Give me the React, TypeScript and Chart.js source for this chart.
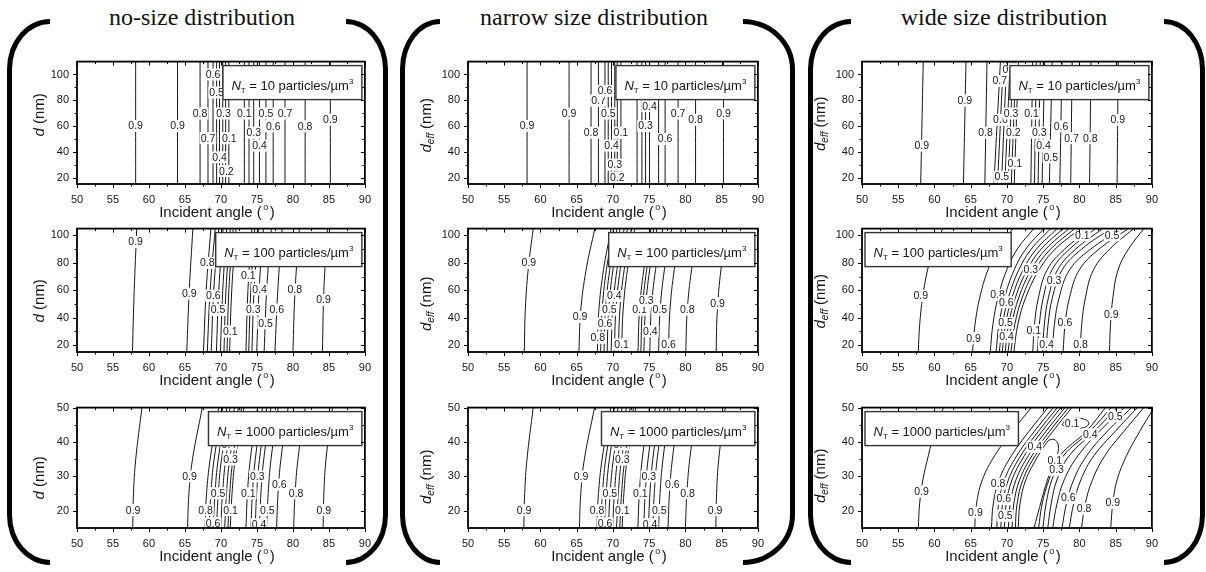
import React, { useEffect, useRef } from "react";
import { Chart, registerables } from "chart.js";

Chart.register(...registerables);

const SANS = "'Liberation Sans', Arial, Helvetica, sans-serif";
const SERIF = "'Liberation Serif', 'Times New Roman', serif";
const INK = "#161616";

// ---------------- axes ----------------
const xTicks = [50, 55, 60, 65, 70, 75, 80, 85, 90];
const xMinor = [52.5, 57.5, 62.5, 67.5, 72.5, 77.5, 82.5, 87.5];
const yTicksTall = [20, 40, 60, 80, 100];
const yMinorTall = [30, 50, 70, 90];
const yTicksShort = [20, 30, 40, 50];
const yMinorShort = [25, 35, 45];
const xRange = [50, 90];
const yRangeRow1 = [15, 110];
const yRangeRow2 = [15, 105];
const yRangeRow3 = [15, 50];
const columnTitles = ["no-size distribution", "narrow size distribution", "wide size distribution"];
const densities = [10, 100, 1000];

// ---------------- row 1 : N = 10 ----------------
// each contour: incident angle at the diameters listed in *D
const noSize10D = [15, 110];
const noSize10X = [
  [58.15, 58.15], [63.97, 63.97], [67.1, 67.1], [68.2, 68.2], [68.9, 68.9], [69.4, 69.4], [69.8, 69.8],
  [70.25, 70.25], [70.65, 70.65], [71.1, 71.1], [73.25, 73.25], [73.9, 73.9], [74.55, 74.55], [75.35, 75.35],
  [76.25, 76.25], [77.26, 77.26], [78.9, 78.9], [81.7, 81.7], [85.2, 85.2],
];
// [level, angle, diameter]
const noSize10Labels = [
  [0.9, 58.15, 60], [0.9, 63.97, 60], [0.8, 67.1, 69.7], [0.7, 68.2, 50.6], [0.6, 68.9, 100], [0.5, 69.4, 86],
  [0.4, 69.8, 35.7], [0.3, 70.35, 69.7], [0.2, 70.75, 25], [0.1, 71.15, 50.6], [0.1, 73.25, 69.7], [0.3, 74.55, 54.8],
  [0.4, 75.35, 44.8], [0.5, 76.25, 69.7], [0.6, 77.26, 59.8], [0.7, 78.9, 69.7], [0.8, 81.7, 59.8], [0.9, 85.2, 64.8],
];

const narrow10D = [15, 110];
const narrow10X = [
  [58.15, 58.15], [63.95, 63.95], [66.98, 66.98], [68.0, 68.0], [68.9, 68.9], [69.35, 69.35], [69.8, 69.8],
  [70.25, 70.25], [70.6, 70.6], [71.1, 71.1], [73.33, 73.33], [74.0, 74.0], [74.5, 74.5], [75.05, 75.05],
  [76.3, 76.3], [77.2, 77.2], [78.99, 78.99], [81.4, 81.4], [85.25, 85.25],
];
const narrow10Labels = [
  [0.9, 58.15, 60], [0.9, 63.95, 69.7], [0.8, 66.98, 54.8], [0.7, 68.0, 79.7], [0.6, 68.9, 87.2], [0.5, 69.35, 69.7],
  [0.4, 69.8, 44.8], [0.3, 70.25, 29.9], [0.2, 70.6, 20], [0.1, 71.1, 54.8], [0.3, 74.5, 60], [0.4, 75.05, 75.4],
  [0.6, 77.2, 49.9], [0.7, 78.99, 69.7], [0.8, 81.4, 64.8], [0.9, 85.25, 69.7],
];

const wide10D = [15, 110];
const wide10X = [
  [58.1, 58.45], [64.0, 64.35], [66.95, 67.25], [68.2, 69.1], [68.7, 69.5], [69.25, 69.95], [69.7, 70.45],
  [70.15, 70.85], [70.6, 71.25], [71.0, 71.6], [73.3, 73.55], [73.8, 74.05], [74.3, 74.6], [74.85, 75.2],
  [75.85, 76.25], [77.3, 77.6], [78.8, 79.0], [81.4, 81.6], [85.2, 85.35],
];
const wide10Labels = [
  [0.9, 58.25, 44.8], [0.9, 64.2, 79.7], [0.8, 67.05, 54.8], [0.7, 69.0, 95], [0.6, 69.1, 64.8], [0.5, 69.3, 20.7],
  [0.4, 70.4, 104], [0.3, 70.55, 69.7], [0.2, 70.87, 54.8], [0.1, 71.1, 31.2], [0.1, 73.4, 69.7], [0.3, 74.45, 54.8],
  [0.4, 75.05, 44.8], [0.5, 76.05, 35.7], [0.6, 77.45, 59.8], [0.7, 78.9, 50.6], [0.8, 81.5, 50.6], [0.9, 85.3, 64.8],
];

// ---------------- row 2 : N = 100 ----------------
const noSize100D = [15, 60, 105];
const noSize100X = [
  [57.7, 57.95, 58.3], [65.25, 65.6, 66.1], [67.57, 67.95, 68.6], [68.1, 68.5, 69.2], [68.65, 69.0, 69.7],
  [69.37, 69.7, 70.3], [69.92, 70.25, 70.8], [70.42, 70.7, 71.3], [70.84, 71.1, 71.7], [71.2, 71.5, 72.1],
  [73.47, 73.75, 74.3], [73.85, 74.15, 74.7], [74.3, 74.6, 75.2], [74.97, 75.3, 75.9], [76.0, 76.35, 77.0],
  [77.5, 77.9, 78.5], [80.0, 80.3, 80.9], [84.1, 84.3, 84.8],
];
const noSize100Labels = [
  [0.9, 58.15, 95.3], [0.9, 65.6, 57.6], [0.8, 68.1, 80], [0.6, 68.95, 56], [0.5, 69.6, 45.6], [0.1, 71.3, 30],
  [0.1, 73.8, 70.6], [0.3, 74.5, 46], [0.4, 75.35, 60.7], [0.5, 76.2, 36], [0.6, 77.75, 46], [0.8, 80.25, 60.7],
  [0.9, 84.25, 53],
];

const narrow100D = [15, 45, 75, 105];
const narrow100X = [
  [57.77, 57.9, 58.3, 59.0], [65.3, 65.55, 66.3, 67.5], [67.85, 68.05, 68.7, 69.75], [68.3, 68.5, 69.1, 70.1],
  [68.76, 68.96, 69.56, 70.56], [69.2, 69.4, 70.0, 71.0], [69.75, 69.95, 70.55, 71.55], [70.2, 70.4, 71.0, 72.0],
  [70.75, 70.95, 71.55, 72.55], [71.2, 71.4, 72.0, 73.0], [73.46, 73.66, 74.26, 75.26], [73.85, 74.05, 74.65, 75.65],
  [74.27, 74.47, 75.07, 76.07], [75.08, 75.28, 75.88, 76.88], [76.3, 76.5, 77.1, 78.1], [77.66, 77.86, 78.46, 79.46],
  [80.05, 80.25, 80.85, 81.85], [84.24, 84.4, 84.9, 85.7],
];
const narrow100Labels = [
  [0.9, 58.4, 80], [0.9, 65.45, 40.5], [0.8, 67.9, 25.4], [0.6, 68.9, 35.7], [0.5, 69.5, 45.9], [0.4, 70.2, 55.8],
  [0.1, 71.2, 20.5], [0.1, 73.66, 45.9], [0.3, 74.6, 52.2], [0.4, 75.17, 30.1], [0.5, 76.45, 45.9], [0.6, 77.66, 20.5],
  [0.8, 80.25, 45.9], [0.9, 84.45, 50.6],
];

const wide100D = [15, 35, 55, 75, 90, 105];
const wide100X = [
  [57.76, 57.96, 58.37, 59.05, 59.87, 61.16],
  [65.25, 65.59, 66.26, 67.38, 68.72, 70.85],
  [67.7, 68.06, 68.78, 69.98, 71.42, 73.7],
  [68.5, 68.9, 69.69, 71.01, 72.59, 75.1],
  [68.95, 69.38, 70.23, 71.65, 73.35, 76.05],
  [69.35, 69.81, 70.72, 72.24, 74.06, 76.95],
  [69.75, 70.23, 71.19, 72.79, 74.71, 77.75],
  [70.15, 70.65, 71.66, 73.34, 75.36, 78.55],
  [70.55, 71.08, 72.13, 73.89, 76.01, 79.35],
  [70.95, 71.5, 72.61, 74.45, 76.65, 80.15],
  [73.56, 73.8, 74.36, 75.56, 77.96, 81.56],
  [74.23, 74.47, 75.03, 76.23, 78.63, 82.23],
  [74.91, 75.16, 75.74, 76.99, 79.48, 83.21],
  [75.4, 75.67, 76.29, 77.63, 80.3, 84.3],
  [76.26, 76.55, 77.22, 78.66, 81.54, 85.86],
  [77.75, 78.02, 78.65, 80.0, 82.7, 86.75],
  [80.1, 80.32, 80.84, 81.95, 84.17, 87.5],
  [84.15, 84.29, 84.63, 85.34, 86.76, 88.9],
];
const wide100Labels = [
  [0.9, 58.1, 55.8], [0.9, 65.4, 25.1], [0.8, 68.7, 56.7], [0.6, 69.9, 51.3], [0.5, 69.8, 36.2], [0.4, 69.95, 26.1],
  [0.3, 73.3, 75.3], [0.1, 73.7, 30.8], [0.3, 76.5, 67.3], [0.4, 75.45, 20.7], [0.6, 78.0, 36.2], [0.8, 80.15, 20.7],
  [0.9, 84.4, 42.6], [0.1, 80.4, 100.2], [0.5, 84.5, 100.2],
];

// ---------------- row 3 : N = 1000 ----------------
const noSize1000D = [15, 25, 35, 50];
const noSize1000X = [
  [57.74, 57.85, 58.16, 59.02], [65.36, 65.55, 66.05, 67.41], [67.78, 68.0, 68.5, 69.7], [68.35, 68.6, 69.05, 70.25],
  [68.92, 69.17, 69.62, 70.82], [69.38, 69.63, 70.08, 71.28], [69.97, 70.22, 70.67, 71.87], [70.52, 70.77, 71.22, 72.42],
  [70.97, 71.22, 71.67, 72.87], [71.29, 71.54, 71.99, 73.19], [73.48, 73.68, 74.08, 75.08], [74.17, 74.37, 74.77, 75.77],
  [74.76, 74.96, 75.36, 76.36], [75.35, 75.55, 75.95, 76.95], [76.36, 76.56, 76.96, 77.96], [77.73, 77.93, 78.33, 79.33],
  [80.1, 80.3, 80.7, 81.7], [84.2, 84.3, 84.6, 85.5],
];
const noSize1000Labels = [
  [0.9, 57.8, 20.2], [0.9, 65.63, 30], [0.8, 67.85, 20.2], [0.6, 68.9, 16.4], [0.5, 69.6, 25.1], [0.4, 71.1, 39.3],
  [0.3, 71.35, 34.9], [0.1, 71.35, 20.2], [0.1, 73.8, 25.1], [0.3, 75.05, 30], [0.4, 75.3, 16.1], [0.5, 76.45, 20.2],
  [0.6, 78.1, 27.6], [0.8, 80.45, 25.1], [0.9, 84.3, 20.2],
];

const narrow1000D = [15, 25, 35, 50];
const narrow1000X = [
  [57.7, 57.82, 58.14, 59.0], [65.37, 65.56, 66.06, 67.46], [67.77, 68.0, 68.5, 69.7], [68.3, 68.55, 69.0, 70.2],
  [68.81, 69.06, 69.51, 70.71], [69.36, 69.61, 70.06, 71.26], [69.95, 70.2, 70.65, 71.85], [70.49, 70.74, 71.19, 72.39],
  [70.94, 71.19, 71.64, 72.84], [71.26, 71.51, 71.96, 73.16], [73.44, 73.64, 74.04, 75.04], [74.25, 74.45, 74.85, 75.85],
  [74.9, 75.1, 75.5, 76.5], [75.5, 75.7, 76.1, 77.1], [76.3, 76.5, 76.9, 77.9], [77.6, 77.8, 78.2, 79.2],
  [80.0, 80.2, 80.6, 81.6], [84.2, 84.3, 84.6, 85.5],
];
const narrow1000Labels = [
  [0.9, 57.75, 20.2], [0.9, 65.6, 30], [0.8, 67.8, 20.2], [0.6, 68.9, 16.4], [0.5, 69.58, 25.1], [0.4, 71.1, 39.3],
  [0.3, 71.3, 34.9], [0.1, 71.3, 20.2], [0.1, 73.76, 25.1], [0.3, 74.95, 30], [0.4, 75.12, 16.1], [0.5, 76.39, 20.2],
  [0.6, 78.2, 27.6], [0.8, 80.3, 25.1], [0.9, 84.1, 20.2],
];

const wide1000D = [15, 22, 29, 36, 43, 50];
const wide1000X = [
  [57.77, 57.95, 58.4, 59.15, 60.0, 61.25],
  [65.55, 65.8, 66.6, 68.3, 70.7, 73.35],
  [67.86, 68.11, 68.91, 70.61, 73.01, 75.66],
  [68.6, 68.85, 69.65, 71.35, 73.75, 76.4],
  [69.15, 69.4, 70.2, 71.9, 74.3, 76.95],
  [69.65, 69.9, 70.7, 72.4, 74.8, 77.45],
  [70.2, 70.45, 71.25, 72.95, 75.35, 78.0],
  [70.7, 70.95, 71.75, 73.45, 75.85, 78.5],
  [71.15, 71.4, 72.2, 73.9, 76.3, 78.95],
  [74.37, 74.85, 75.8, 77.3, 80.9, 83.6],
  [74.96, 75.4, 76.2, 77.8, 81.4, 84.4],
  [75.63, 76.1, 76.9, 78.6, 82.0, 85.2],
  [76.31, 76.9, 77.9, 79.8, 82.7, 86.2],
  [77.6, 78.2, 79.2, 81.0, 83.8, 87.2],
  [78.6, 79.2, 80.2, 82.0, 84.9, 88.0],
  [80.29, 80.8, 81.8, 83.5, 86.1, 88.9],
  [84.32, 84.6, 85.2, 86.5, 88.3, 90.3],
];
// the 0.1 contour that closes over the valley, and the small closed 0.1 island: [angle, diameter]
const wide1000Valley = [
  [71.55, 15], [71.8, 22], [72.6, 29], [74.3, 36], [75.2, 39], [75.9, 40.6], [76.7, 40.5], [77.1, 38.8],
  [76.9, 36], [76.1, 32], [75.3, 27], [74.5, 21], [73.74, 15],
];
const wide1000Island = [
  [77.6, 45.0], [78.1, 46.3], [79.4, 46.9], [80.7, 46.6], [81.3, 45.6], [80.9, 44.4], [79.8, 44.0], [78.5, 44.2], [77.6, 45.0],
];
const wide1000Labels = [
  [0.9, 58.2, 25.6], [0.9, 65.65, 19.5], [0.8, 68.78, 27.9], [0.6, 69.56, 23.4], [0.5, 69.78, 18.6], [0.4, 73.84, 38.6],
  [0.1, 76.6, 34.7], [0.3, 76.86, 31.9], [0.1, 79.0, 45.3], [0.4, 81.5, 42.2], [0.5, 84.95, 47.5], [0.6, 78.45, 23.7],
  [0.8, 80.65, 20.6], [0.9, 84.6, 22.3],
];

// ---------------- layout (page pixels) ----------------
const PADL = 62, PADT = 10, PADR = 10, PADB = 46;
const COL_LEFT = [77, 468, 862];
const COL_W = [293, 295, 295];
const ROW_TOP = [57, 224, 403];
const ROW_H = [127, 128, 125];
const Y_TITLE_OFF = [38.5, 42.5, 42.5];
const Y_TITLE_DY = [[-8, 2.5, 1], [10.5, 13.5, 11], [10, 9, 8]];
const BRACKETS = [
  [7, 50, 346, 388],
  [400, 440, 743, 795],
  [808, 851, 1164, 1205],
];
const TITLE_CX = [202, 594, 1004];

interface PanelSpec {
  row: number; col: number; d: number[]; xs: number[][]; paths: number[][][]; labels: number[][];
  yRange: number[]; yTicks: number[]; yMinor: number[]; density: number; legendLeft: boolean;
}

const panels: PanelSpec[] = [
  { row: 0, col: 0, d: noSize10D, xs: noSize10X, paths: [], labels: noSize10Labels, yRange: yRangeRow1, yTicks: yTicksTall, yMinor: yMinorTall, density: densities[0], legendLeft: false },
  { row: 0, col: 1, d: narrow10D, xs: narrow10X, paths: [], labels: narrow10Labels, yRange: yRangeRow1, yTicks: yTicksTall, yMinor: yMinorTall, density: densities[0], legendLeft: false },
  { row: 0, col: 2, d: wide10D, xs: wide10X, paths: [], labels: wide10Labels, yRange: yRangeRow1, yTicks: yTicksTall, yMinor: yMinorTall, density: densities[0], legendLeft: false },
  { row: 1, col: 0, d: noSize100D, xs: noSize100X, paths: [], labels: noSize100Labels, yRange: yRangeRow2, yTicks: yTicksTall, yMinor: yMinorTall, density: densities[1], legendLeft: false },
  { row: 1, col: 1, d: narrow100D, xs: narrow100X, paths: [], labels: narrow100Labels, yRange: yRangeRow2, yTicks: yTicksTall, yMinor: yMinorTall, density: densities[1], legendLeft: false },
  { row: 1, col: 2, d: wide100D, xs: wide100X, paths: [], labels: wide100Labels, yRange: yRangeRow2, yTicks: yTicksTall, yMinor: yMinorTall, density: densities[1], legendLeft: true },
  { row: 2, col: 0, d: noSize1000D, xs: noSize1000X, paths: [], labels: noSize1000Labels, yRange: yRangeRow3, yTicks: yTicksShort, yMinor: yMinorShort, density: densities[2], legendLeft: false },
  { row: 2, col: 1, d: narrow1000D, xs: narrow1000X, paths: [], labels: narrow1000Labels, yRange: yRangeRow3, yTicks: yTicksShort, yMinor: yMinorShort, density: densities[2], legendLeft: false },
  { row: 2, col: 2, d: wide1000D, xs: wide1000X, paths: [wide1000Valley, wide1000Island], labels: wide1000Labels, yRange: yRangeRow3, yTicks: yTicksShort, yMinor: yMinorShort, density: densities[2], legendLeft: true },
];

type Piece = { t: string; font: string; dy: number; gap?: number };

function piecesWidth(ctx: CanvasRenderingContext2D, pieces: Piece[]) {
  let w = 0;
  for (const p of pieces) {
    ctx.font = p.font;
    w += ctx.measureText(p.t).width + (p.gap || 0);
  }
  return w;
}
function drawPieces(ctx: CanvasRenderingContext2D, pieces: Piece[], x: number, y: number) {
  let cx = x;
  for (const p of pieces) {
    ctx.font = p.font;
    ctx.fillText(p.t, cx, y + p.dy);
    cx += ctx.measureText(p.t).width + (p.gap || 0);
  }
}

function decorPlugin(p: PanelSpec) {
  return {
    id: "decor",
    afterDatasetsDraw(chart: any) {
      const ctx: CanvasRenderingContext2D = chart.ctx;
      const a = chart.chartArea;
      const sx = chart.scales.x, sy = chart.scales.y;
      ctx.save();
      ctx.textAlign = "center";
      ctx.textBaseline = "middle";
      ctx.font = `10.5px ${SANS}`;
      for (const [v, x, d] of p.labels) {
        const px = sx.getPixelForValue(x), py = sy.getPixelForValue(d);
        const t = v.toFixed(1);
        const w = ctx.measureText(t).width + 2;
        ctx.fillStyle = "#fff";
        ctx.fillRect(px - w / 2, py - 6, w, 12);
        ctx.fillStyle = INK;
        ctx.fillText(t, px, py + 0.5);
      }

      // legend box
      ctx.textAlign = "left";
      ctx.textBaseline = "alphabetic";
      const lp: Piece[] = [
        { t: "N", font: `italic 13px ${SANS}`, dy: 0 },
        { t: "T", font: `8px ${SANS}`, dy: 3 },
        { t: ` = ${p.density} particles/\u00b5m`, font: `13px ${SANS}`, dy: 0 },
        { t: "3", font: `8px ${SANS}`, dy: -6 },
      ];
      const tw = piecesWidth(ctx, lp);
      const bw = tw + 17, bh = 34;
      const bx = p.legendLeft ? a.left + 3 : a.right - 3 - bw;
      const by = a.top + 4;
      ctx.fillStyle = "#fff";
      ctx.fillRect(bx, by, bw, bh);
      ctx.strokeStyle = "#333";
      ctx.lineWidth = 1.4;
      ctx.strokeRect(bx, by, bw, bh);
      ctx.fillStyle = INK;
      drawPieces(ctx, lp, bx + 8.5, by + 24);

      // tick marks
      ctx.strokeStyle = "#000";
      ctx.lineWidth = 1;
      ctx.beginPath();
      const xt = (v: number, len: number) => {
        const px = Math.round(sx.getPixelForValue(v)) + 0.5;
        ctx.moveTo(px, a.bottom); ctx.lineTo(px, a.bottom + len);
        ctx.moveTo(px, a.top); ctx.lineTo(px, a.top + len);
      };
      const yt = (v: number, len: number) => {
        const py = Math.round(sy.getPixelForValue(v)) + 0.5;
        ctx.moveTo(a.left, py); ctx.lineTo(a.left - len, py);
        ctx.moveTo(a.right, py); ctx.lineTo(a.right - len, py);
      };
      xTicks.forEach((v) => xt(v, 4));
      xMinor.forEach((v) => xt(v, 2.5));
      p.yTicks.forEach((v) => yt(v, 4));
      p.yMinor.forEach((v) => yt(v, 2.5));
      ctx.stroke();

      // frame
      ctx.lineWidth = 1.8;
      ctx.strokeRect(a.left, a.top, a.right - a.left, a.bottom - a.top);

      // x title
      ctx.fillStyle = INK;
      const xp: Piece[] = [
        { t: "Incident angle (", font: `15px ${SANS}`, dy: 0, gap: 1.5 },
        { t: "o", font: `9px ${SANS}`, dy: -7, gap: 1.5 },
        { t: ")", font: `15px ${SANS}`, dy: 0 },
      ];
      const xw = piecesWidth(ctx, xp);
      drawPieces(ctx, xp, (a.left + a.right) / 2 - 4 - xw / 2, a.bottom + 32.5);

      // y title
      const yp: Piece[] = [{ t: "d", font: `italic 15px ${SANS}`, dy: 0 }];
      if (p.col > 0) yp.push({ t: "eff", font: `italic 10px ${SANS}`, dy: 3.5 });
      yp.push({ t: " (nm)", font: `15px ${SANS}`, dy: 0 });
      const yw = piecesWidth(ctx, yp);
      ctx.translate(a.left - Y_TITLE_OFF[p.col], (a.top + a.bottom) / 2 + Y_TITLE_DY[p.row][p.col]);
      ctx.rotate(-Math.PI / 2);
      drawPieces(ctx, yp, -yw / 2, 5);
      ctx.restore();
    },
  };
}

function Panel({ spec }: { spec: PanelSpec }) {
  const ref = useRef<HTMLCanvasElement>(null);
  const W = PADL + COL_W[spec.col] + PADR;
  const H = PADT + ROW_H[spec.row] + PADB;
  useEffect(() => {
    const lines = spec.xs.map((row) => row.map((x, i) => ({ x, y: spec.d[i] })));
    const extra = spec.paths.map((path) => path.map(([x, y]) => ({ x, y })));
    const datasets = [...lines, ...extra].map((data) => ({
      data,
      showLine: true,
      borderColor: INK,
      borderWidth: 1,
      pointRadius: 0,
      pointHoverRadius: 0,
      tension: 0.4,
      fill: false,
    }));
    const tickFont = { family: SANS, size: 11 };
    const chart = new Chart(ref.current as HTMLCanvasElement, {
      type: "scatter",
      data: { datasets },
      options: {
        animation: false,
        responsive: false,
        maintainAspectRatio: false,
        devicePixelRatio: 1,
        events: [],
        layout: { padding: { left: 0, top: PADT, right: PADR, bottom: 0 } },
        plugins: { legend: { display: false }, tooltip: { enabled: false }, title: { display: false } },
        scales: {
          x: {
            type: "linear",
            min: xRange[0],
            max: xRange[1],
            afterBuildTicks: (s: any) => { s.ticks = xTicks.map((value) => ({ value })); },
            afterFit: (s: any) => { s.height = PADB; },
            ticks: { font: tickFont, color: INK, padding: 9, maxRotation: 0, autoSkip: false },
            grid: { display: false, drawTicks: false },
            border: { display: false },
          },
          y: {
            type: "linear",
            min: spec.yRange[0],
            max: spec.yRange[1],
            afterBuildTicks: (s: any) => { s.ticks = spec.yTicks.map((value) => ({ value })); },
            afterFit: (s: any) => { s.width = PADL; },
            ticks: { font: tickFont, color: INK, padding: 8, autoSkip: false },
            grid: { display: false, drawTicks: false },
            border: { display: false },
          },
        },
      } as any,
      plugins: [decorPlugin(spec) as any],
    });
    return () => chart.destroy();
  }, []);
  return (
    <canvas
      ref={ref}
      width={W}
      height={H}
      style={{ position: "absolute", left: COL_LEFT[spec.col] - PADL, top: ROW_TOP[spec.row] - PADT, width: W, height: H }}
    />
  );
}

function Bracket({ b }: { b: number[] }) {
  const [lo, ls, rs, ro] = b;
  const top = 19, height = 546, thick = 5;
  const common: React.CSSProperties = {
    position: "absolute",
    top,
    height,
    boxSizing: "border-box",
    borderTop: `${thick}px solid #000`,
    borderBottom: `${thick}px solid #000`,
  };
  return (
    <>
      <div
        style={{
          ...common,
          left: lo,
          width: ls - lo,
          borderLeft: `${thick}px solid #000`,
          borderTopLeftRadius: `${ls - lo}px 50px`,
          borderBottomLeftRadius: `${ls - lo}px 50px`,
        }}
      />
      <div
        style={{
          ...common,
          left: rs,
          width: ro - rs,
          borderRight: `${thick}px solid #000`,
          borderTopRightRadius: `${ro - rs}px 50px`,
          borderBottomRightRadius: `${ro - rs}px 50px`,
        }}
      />
    </>
  );
}

export default function App() {
  return (
    <div style={{ position: "absolute", left: 0, top: 0, width: 1206, height: 572, background: "#fff", overflow: "hidden" }}>
      {BRACKETS.map((b, i) => (
        <Bracket key={"b" + i} b={b} />
      ))}
      {columnTitles.map((t, i) => (
        <div
          key={"t" + i}
          style={{
            position: "absolute",
            left: TITLE_CX[i] - 200,
            width: 400,
            top: 5,
            textAlign: "center",
            fontFamily: SERIF,
            fontSize: 24,
            lineHeight: "24px",
            color: "#111",
            whiteSpace: "nowrap",
          }}
        >
          {t}
        </div>
      ))}
      {panels.map((p, i) => (
        <Panel key={i} spec={p} />
      ))}
    </div>
  );
}
